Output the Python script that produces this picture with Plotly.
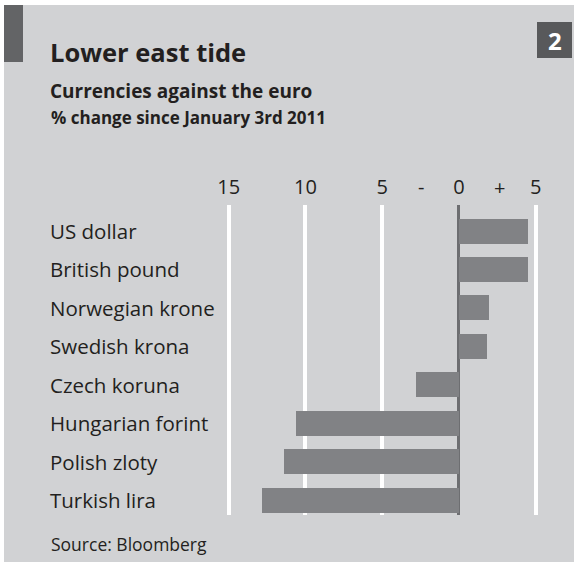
import plotly.graph_objects as go

currencies = ["US dollar", "British pound", "Norwegian krone", "Swedish krona",
              "Czech koruna", "Hungarian forint", "Polish zloty", "Turkish lira"]
changes = [4.5, 4.5, 1.95, 1.8, -2.8, -10.6, -11.4, -12.8]
tick_vals = [-15, -10, -5, 0, 5]
tick_text = ["15", "10", "5", "0", "5"]

W, H = 577, 564
L, R, T, B = 210, 33, 205, 49
FONT = "Open Sans"
TXT = "#231f20"

fig = go.Figure()
fig.add_trace(go.Bar(
    x=changes, y=currencies, orientation="h",
    marker=dict(color="#818285", line=dict(width=0)),
    width=0.65, hoverinfo="skip",
))

pw = W - L - R
ph = H - T - B
def px(xp):
    return (xp - L) / pw
def py(yp):
    return (H - B - yp) / ph

shapes = [
    dict(type="rect", xref="paper", yref="paper", x0=px(4), x1=px(574), y0=py(562), y1=py(5),
         fillcolor="#d1d2d4", line=dict(width=0), layer="below"),
    dict(type="rect", xref="paper", yref="paper", x0=px(4), x1=px(23), y0=py(62), y1=py(5),
         fillcolor="#636466", line=dict(width=0), layer="below"),
    dict(type="rect", xref="paper", yref="paper", x0=px(537), x1=px(572), y0=py(58), y1=py(22),
         fillcolor="#58595b", line=dict(width=0), layer="below"),
]

annotations = []
for c in currencies:
    annotations.append(dict(x=px(48), xref="paper", y=c, yref="y", text=c, showarrow=False,
                            xanchor="left", yanchor="middle",
                            font=dict(family=FONT, size=20.5, color=TXT)))
annotations += [
    dict(x=px(47.5), y=py(52), xref="paper", yref="paper", text="<b>Lower east tide</b>",
         showarrow=False, xanchor="left", yanchor="middle", font=dict(family=FONT, size=25.5, color=TXT)),
    dict(x=px(48), y=py(91), xref="paper", yref="paper", text="<b>Currencies against the euro</b>",
         showarrow=False, xanchor="left", yanchor="middle", font=dict(family=FONT, size=19, color=TXT)),
    dict(x=px(48.5), y=py(118), xref="paper", yref="paper", text="<b>% change since January 3rd 2011</b>",
         showarrow=False, xanchor="left", yanchor="middle", font=dict(family=FONT, size=17, color=TXT)),
    dict(x=px(554.5), y=py(40), xref="paper", yref="paper", text="<b>2</b>",
         showarrow=False, xanchor="center", yanchor="middle", font=dict(family=FONT, size=24, color="white")),
    dict(x=px(48.5), y=py(544), xref="paper", yref="paper", text="Source: Bloomberg",
         showarrow=False, xanchor="left", yanchor="middle", font=dict(family=FONT, size=17.5, color=TXT)),
    dict(x=-2.5, y=py(186), xref="x", yref="paper", text="-",
         showarrow=False, xanchor="center", yanchor="middle", font=dict(family=FONT, size=20, color=TXT)),
    dict(x=2.65, y=py(188), xref="x", yref="paper", text="+",
         showarrow=False, xanchor="center", yanchor="middle", font=dict(family=FONT, size=20, color=TXT)),
]

fig.update_layout(
    width=W, height=H,
    margin=dict(l=L, r=R, t=T, b=B, autoexpand=False),
    paper_bgcolor="white", plot_bgcolor="rgba(0,0,0,0)",
    showlegend=False, bargap=0,
    shapes=shapes, annotations=annotations,
    xaxis=dict(range=[-16.22, 5.54], side="top", tickvals=tick_vals, ticktext=tick_text,
               showgrid=True, gridcolor="white", gridwidth=3.5,
               zeroline=True, zerolinecolor="#6d6e71", zerolinewidth=3,
               ticks="outside", ticklen=2, tickcolor="rgba(0,0,0,0)",
               tickfont=dict(family=FONT, size=20, color=TXT), fixedrange=True),
    yaxis=dict(range=[7.39, -0.677], showticklabels=False, showgrid=False, zeroline=False,
               fixedrange=True),
)

fig.write_html("out.html", config={"displayModeBar": False},
               post_script="document.body.style.margin='0';document.body.style.padding='0';")
